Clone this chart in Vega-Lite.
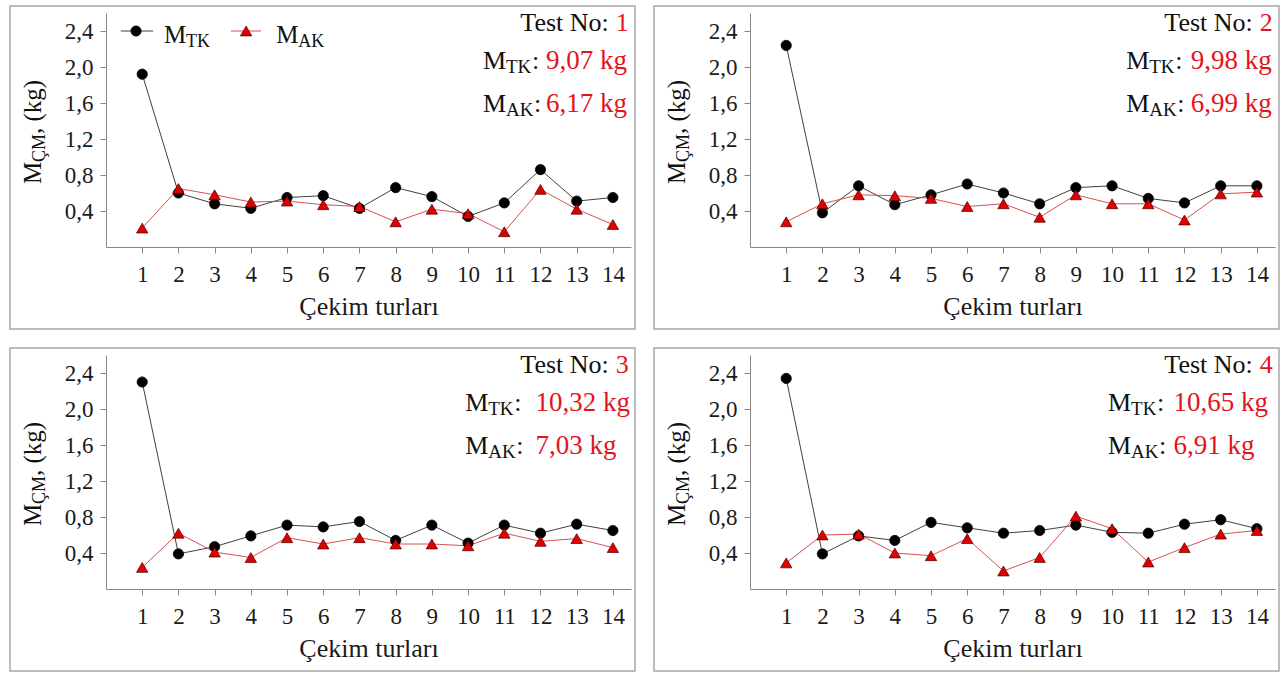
{
  "$schema": "https://vega.github.io/schema/vega-lite/v6.json",
  "background": "white",
  "padding": {"left": 9, "top": 5, "right": 0, "bottom": 0},
  "autosize": {"type": "pad"},
  "bounds": "flush",
  "spacing": 19,
  "columns": 2,
  "data": {"values": [
    {"test":1,"round":1,"series":"TK","v":1.92},{"test":1,"round":2,"series":"TK","v":0.60},{"test":1,"round":3,"series":"TK","v":0.48},{"test":1,"round":4,"series":"TK","v":0.43},{"test":1,"round":5,"series":"TK","v":0.55},{"test":1,"round":6,"series":"TK","v":0.57},{"test":1,"round":7,"series":"TK","v":0.43},{"test":1,"round":8,"series":"TK","v":0.66},{"test":1,"round":9,"series":"TK","v":0.56},{"test":1,"round":10,"series":"TK","v":0.34},{"test":1,"round":11,"series":"TK","v":0.49},{"test":1,"round":12,"series":"TK","v":0.86},{"test":1,"round":13,"series":"TK","v":0.51},{"test":1,"round":14,"series":"TK","v":0.55},
    {"test":1,"round":1,"series":"AK","v":0.21},{"test":1,"round":2,"series":"AK","v":0.65},{"test":1,"round":3,"series":"AK","v":0.58},{"test":1,"round":4,"series":"AK","v":0.50},{"test":1,"round":5,"series":"AK","v":0.51},{"test":1,"round":6,"series":"AK","v":0.47},{"test":1,"round":7,"series":"AK","v":0.45},{"test":1,"round":8,"series":"AK","v":0.28},{"test":1,"round":9,"series":"AK","v":0.42},{"test":1,"round":10,"series":"AK","v":0.37},{"test":1,"round":11,"series":"AK","v":0.17},{"test":1,"round":12,"series":"AK","v":0.64},{"test":1,"round":13,"series":"AK","v":0.42},{"test":1,"round":14,"series":"AK","v":0.25},
    {"test":2,"round":1,"series":"TK","v":2.24},{"test":2,"round":2,"series":"TK","v":0.38},{"test":2,"round":3,"series":"TK","v":0.68},{"test":2,"round":4,"series":"TK","v":0.47},{"test":2,"round":5,"series":"TK","v":0.58},{"test":2,"round":6,"series":"TK","v":0.70},{"test":2,"round":7,"series":"TK","v":0.60},{"test":2,"round":8,"series":"TK","v":0.48},{"test":2,"round":9,"series":"TK","v":0.66},{"test":2,"round":10,"series":"TK","v":0.68},{"test":2,"round":11,"series":"TK","v":0.54},{"test":2,"round":12,"series":"TK","v":0.49},{"test":2,"round":13,"series":"TK","v":0.68},{"test":2,"round":14,"series":"TK","v":0.68},
    {"test":2,"round":1,"series":"AK","v":0.28},{"test":2,"round":2,"series":"AK","v":0.48},{"test":2,"round":3,"series":"AK","v":0.58},{"test":2,"round":4,"series":"AK","v":0.57},{"test":2,"round":5,"series":"AK","v":0.54},{"test":2,"round":6,"series":"AK","v":0.45},{"test":2,"round":7,"series":"AK","v":0.48},{"test":2,"round":8,"series":"AK","v":0.33},{"test":2,"round":9,"series":"AK","v":0.58},{"test":2,"round":10,"series":"AK","v":0.48},{"test":2,"round":11,"series":"AK","v":0.48},{"test":2,"round":12,"series":"AK","v":0.30},{"test":2,"round":13,"series":"AK","v":0.59},{"test":2,"round":14,"series":"AK","v":0.61},
    {"test":3,"round":1,"series":"TK","v":2.30},{"test":3,"round":2,"series":"TK","v":0.39},{"test":3,"round":3,"series":"TK","v":0.47},{"test":3,"round":4,"series":"TK","v":0.59},{"test":3,"round":5,"series":"TK","v":0.71},{"test":3,"round":6,"series":"TK","v":0.69},{"test":3,"round":7,"series":"TK","v":0.75},{"test":3,"round":8,"series":"TK","v":0.54},{"test":3,"round":9,"series":"TK","v":0.71},{"test":3,"round":10,"series":"TK","v":0.51},{"test":3,"round":11,"series":"TK","v":0.71},{"test":3,"round":12,"series":"TK","v":0.62},{"test":3,"round":13,"series":"TK","v":0.72},{"test":3,"round":14,"series":"TK","v":0.65},
    {"test":3,"round":1,"series":"AK","v":0.24},{"test":3,"round":2,"series":"AK","v":0.62},{"test":3,"round":3,"series":"AK","v":0.41},{"test":3,"round":4,"series":"AK","v":0.35},{"test":3,"round":5,"series":"AK","v":0.57},{"test":3,"round":6,"series":"AK","v":0.50},{"test":3,"round":7,"series":"AK","v":0.57},{"test":3,"round":8,"series":"AK","v":0.50},{"test":3,"round":9,"series":"AK","v":0.50},{"test":3,"round":10,"series":"AK","v":0.48},{"test":3,"round":11,"series":"AK","v":0.62},{"test":3,"round":12,"series":"AK","v":0.53},{"test":3,"round":13,"series":"AK","v":0.56},{"test":3,"round":14,"series":"AK","v":0.46},
    {"test":4,"round":1,"series":"TK","v":2.34},{"test":4,"round":2,"series":"TK","v":0.39},{"test":4,"round":3,"series":"TK","v":0.59},{"test":4,"round":4,"series":"TK","v":0.54},{"test":4,"round":5,"series":"TK","v":0.74},{"test":4,"round":6,"series":"TK","v":0.68},{"test":4,"round":7,"series":"TK","v":0.62},{"test":4,"round":8,"series":"TK","v":0.65},{"test":4,"round":9,"series":"TK","v":0.71},{"test":4,"round":10,"series":"TK","v":0.63},{"test":4,"round":11,"series":"TK","v":0.62},{"test":4,"round":12,"series":"TK","v":0.72},{"test":4,"round":13,"series":"TK","v":0.77},{"test":4,"round":14,"series":"TK","v":0.67},
    {"test":4,"round":1,"series":"AK","v":0.29},{"test":4,"round":2,"series":"AK","v":0.60},{"test":4,"round":3,"series":"AK","v":0.61},{"test":4,"round":4,"series":"AK","v":0.40},{"test":4,"round":5,"series":"AK","v":0.37},{"test":4,"round":6,"series":"AK","v":0.56},{"test":4,"round":7,"series":"AK","v":0.20},{"test":4,"round":8,"series":"AK","v":0.35},{"test":4,"round":9,"series":"AK","v":0.81},{"test":4,"round":10,"series":"AK","v":0.67},{"test":4,"round":11,"series":"AK","v":0.30},{"test":4,"round":12,"series":"AK","v":0.46},{"test":4,"round":13,"series":"AK","v":0.61},{"test":4,"round":14,"series":"AK","v":0.65},
    {"test":1,"kind":"info","tk":"9,07 kg","ak":"6,17 kg"},
    {"test":2,"kind":"info","tk":"9,98 kg","ak":"6,99 kg"},
    {"test":3,"kind":"info","tk":"10,32 kg","ak":"7,03 kg"},
    {"test":4,"kind":"info","tk":"10,65 kg","ak":"6,91 kg"},
    {"test":1,"kind":"legend"}
  ]},
  "concat": [
    {"transform": [{"filter": "datum.test === 1"}], "width": 625, "height": 323,
     "layer": [
      {"transform": [{"filter": "isValid(datum.v)"}], "mark": {"type": "line", "strokeWidth": 0.9},
       "encoding": {
         "x": {"field": "round", "type": "quantitative", "scale": {"domain": [0, 14.5], "range": [96, 621], "nice": false, "zero": false},
           "axis": {"title": "Çekim turları", "orient": "bottom", "offset": -82, "values": [1,2,3,4,5,6,7,8,9,10,11,12,13,14], "format": "d", "grid": false, "domainColor": "#888", "tickColor": "#888", "tickSize": 6, "labelFont": "Liberation Serif", "labelFontSize": 23, "labelColor": "#1a1a1a", "labelPadding": 10, "titleFont": "Liberation Serif", "titleFontSize": 26, "titleFontWeight": "normal", "titleColor": "#1a1a1a", "titlePadding": 7}},
         "y": {"field": "v", "type": "quantitative", "scale": {"domain": [0, 2.6], "range": [241, 7], "nice": false, "zero": false},
           "axis": {"title": null, "orient": "left", "offset": -96, "values": [0.4, 0.8, 1.2, 1.6, 2.0, 2.4], "labelExpr": "replace(format(datum.value, '.1f'), '.', ',')", "grid": false, "domainColor": "#888", "tickColor": "#888", "tickSize": 6, "labelFont": "Liberation Serif", "labelFontSize": 23, "labelColor": "#1a1a1a", "labelPadding": 7}},
         "color": {"field": "series", "type": "nominal", "scale": {"domain": ["TK", "AK"], "range": ["#2a2a2a", "#d43c3c"]}, "legend": null}}},
      {"transform": [{"filter": "datum.series === 'TK'"}], "mark": {"type": "point", "shape": "circle", "filled": true, "fill": "#000", "stroke": "#000", "strokeWidth": 0.8, "size": 105, "opacity": 1},
       "encoding": {"x": {"field": "round", "type": "quantitative"}, "y": {"field": "v", "type": "quantitative"}}},
      {"transform": [{"filter": "datum.series === 'AK'"}], "mark": {"type": "point", "shape": "triangle-up", "filled": true, "fill": "#e00000", "stroke": "#4a0000", "strokeWidth": 0.7, "size": 130, "opacity": 1},
       "encoding": {"x": {"field": "round", "type": "quantitative"}, "y": {"field": "v", "type": "quantitative"}}},
      {"transform": [{"filter": "datum.kind === 'info'"}], "mark": {"type": "text", "text": "Test No:", "align": "right", "baseline": "alphabetic", "dx": -20, "fontSize": 26, "color": "#111"},
       "encoding": {"x": {"datum": 14.44, "type": "quantitative"}, "y": {"datum": 2.4, "type": "quantitative"}}},
      {"transform": [{"filter": "datum.kind === 'info'"}], "mark": {"type": "text", "align": "right", "baseline": "alphabetic", "fontSize": 26, "color": "#e3141c"},
       "encoding": {"text": {"field": "test", "type": "nominal"}, "x": {"datum": 14.44, "type": "quantitative"}, "y": {"datum": 2.4, "type": "quantitative"}}},
      {"transform": [{"filter": "datum.kind === 'info'"}], "mark": {"type": "text", "text": "M", "align": "left", "baseline": "alphabetic", "fontSize": 26, "color": "#111"},
       "encoding": {"x": {"datum": 10.41, "type": "quantitative"}, "y": {"datum": 1.974, "type": "quantitative"}}},
      {"transform": [{"filter": "datum.kind === 'info'"}], "mark": {"type": "text", "text": "TK", "align": "left", "baseline": "alphabetic", "dx": 23, "dy": 4, "fontSize": 19, "color": "#111"},
       "encoding": {"x": {"datum": 10.41, "type": "quantitative"}, "y": {"datum": 1.974, "type": "quantitative"}}},
      {"transform": [{"filter": "datum.kind === 'info'"}], "mark": {"type": "text", "text": ":", "align": "left", "baseline": "alphabetic", "dx": 49, "fontSize": 26, "color": "#111"},
       "encoding": {"x": {"datum": 10.41, "type": "quantitative"}, "y": {"datum": 1.974, "type": "quantitative"}}},
      {"transform": [{"filter": "datum.kind === 'info'"}], "mark": {"type": "text", "align": "left", "baseline": "alphabetic", "fontSize": 27, "color": "#e3141c"},
       "encoding": {"text": {"field": "tk", "type": "nominal"}, "x": {"datum": 12.15, "type": "quantitative"}, "y": {"datum": 1.974, "type": "quantitative"}}},
      {"transform": [{"filter": "datum.kind === 'info'"}], "mark": {"type": "text", "text": "M", "align": "left", "baseline": "alphabetic", "fontSize": 26, "color": "#111"},
       "encoding": {"x": {"datum": 10.41, "type": "quantitative"}, "y": {"datum": 1.5, "type": "quantitative"}}},
      {"transform": [{"filter": "datum.kind === 'info'"}], "mark": {"type": "text", "text": "AK", "align": "left", "baseline": "alphabetic", "dx": 23, "dy": 4, "fontSize": 19, "color": "#111"},
       "encoding": {"x": {"datum": 10.41, "type": "quantitative"}, "y": {"datum": 1.5, "type": "quantitative"}}},
      {"transform": [{"filter": "datum.kind === 'info'"}], "mark": {"type": "text", "text": ":", "align": "left", "baseline": "alphabetic", "dx": 51, "fontSize": 26, "color": "#111"},
       "encoding": {"x": {"datum": 10.41, "type": "quantitative"}, "y": {"datum": 1.5, "type": "quantitative"}}},
      {"transform": [{"filter": "datum.kind === 'info'"}], "mark": {"type": "text", "align": "left", "baseline": "alphabetic", "fontSize": 27, "color": "#e3141c"},
       "encoding": {"text": {"field": "ak", "type": "nominal"}, "x": {"datum": 12.15, "type": "quantitative"}, "y": {"datum": 1.5, "type": "quantitative"}}},
      {"transform": [{"filter": "datum.kind === 'info'"}], "mark": {"type": "text", "text": "M", "angle": 270, "align": "left", "baseline": "alphabetic", "fontSize": 25, "color": "#111"},
       "encoding": {"x": {"datum": -1.8, "type": "quantitative"}, "y": {"datum": 0.7, "type": "quantitative"}}},
      {"transform": [{"filter": "datum.kind === 'info'"}], "mark": {"type": "text", "text": "ÇM", "angle": 270, "align": "left", "baseline": "alphabetic", "dx": 22, "dy": 4, "fontSize": 18, "color": "#111"},
       "encoding": {"x": {"datum": -1.8, "type": "quantitative"}, "y": {"datum": 0.7, "type": "quantitative"}}},
      {"transform": [{"filter": "datum.kind === 'info'"}], "mark": {"type": "text", "text": ", (kg)", "angle": 270, "align": "left", "baseline": "alphabetic", "dx": 50, "fontSize": 25, "color": "#111"},
       "encoding": {"x": {"datum": -1.8, "type": "quantitative"}, "y": {"datum": 0.7, "type": "quantitative"}}},
      {"transform": [{"filter": "datum.kind === 'legend'"}], "mark": {"type": "rule", "color": "#2a2a2a", "strokeWidth": 0.9},
       "encoding": {"x": {"datum": 0.41, "type": "quantitative"}, "x2": {"datum": 1.3}, "y": {"datum": 2.4, "type": "quantitative"}}},
      {"transform": [{"filter": "datum.kind === 'legend'"}], "mark": {"type": "point", "shape": "circle", "filled": true, "fill": "#000", "stroke": "#000", "strokeWidth": 0.8, "size": 105, "opacity": 1},
       "encoding": {"x": {"datum": 0.83, "type": "quantitative"}, "y": {"datum": 2.4, "type": "quantitative"}}},
      {"transform": [{"filter": "datum.kind === 'legend'"}], "mark": {"type": "text", "text": "M", "align": "left", "baseline": "alphabetic", "fontSize": 25, "color": "#111"},
       "encoding": {"x": {"datum": 1.6, "type": "quantitative"}, "y": {"datum": 2.27, "type": "quantitative"}}},
      {"transform": [{"filter": "datum.kind === 'legend'"}], "mark": {"type": "text", "text": "TK", "align": "left", "baseline": "alphabetic", "dx": 22, "dy": 4, "fontSize": 18, "color": "#111"},
       "encoding": {"x": {"datum": 1.6, "type": "quantitative"}, "y": {"datum": 2.27, "type": "quantitative"}}},
      {"transform": [{"filter": "datum.kind === 'legend'"}], "mark": {"type": "rule", "color": "#d43c3c", "strokeWidth": 0.9},
       "encoding": {"x": {"datum": 3.45, "type": "quantitative"}, "x2": {"datum": 4.28}, "y": {"datum": 2.4, "type": "quantitative"}}},
      {"transform": [{"filter": "datum.kind === 'legend'"}], "mark": {"type": "point", "shape": "triangle-up", "filled": true, "fill": "#e00000", "stroke": "#4a0000", "strokeWidth": 0.7, "size": 130, "opacity": 1},
       "encoding": {"x": {"datum": 3.87, "type": "quantitative"}, "y": {"datum": 2.4, "type": "quantitative"}}},
      {"transform": [{"filter": "datum.kind === 'legend'"}], "mark": {"type": "text", "text": "M", "align": "left", "baseline": "alphabetic", "fontSize": 25, "color": "#111"},
       "encoding": {"x": {"datum": 4.7, "type": "quantitative"}, "y": {"datum": 2.27, "type": "quantitative"}}},
      {"transform": [{"filter": "datum.kind === 'legend'"}], "mark": {"type": "text", "text": "AK", "align": "left", "baseline": "alphabetic", "dx": 22, "dy": 4, "fontSize": 18, "color": "#111"},
       "encoding": {"x": {"datum": 4.7, "type": "quantitative"}, "y": {"datum": 2.27, "type": "quantitative"}}}
     ]},
    {"transform": [{"filter": "datum.test === 2"}], "width": 625, "height": 323,
     "layer": [
      {"transform": [{"filter": "isValid(datum.v)"}], "mark": {"type": "line", "strokeWidth": 0.9},
       "encoding": {
         "x": {"field": "round", "type": "quantitative", "scale": {"domain": [0, 14.5], "range": [96, 621], "nice": false, "zero": false},
           "axis": {"title": "Çekim turları", "orient": "bottom", "offset": -82, "values": [1,2,3,4,5,6,7,8,9,10,11,12,13,14], "format": "d", "grid": false, "domainColor": "#888", "tickColor": "#888", "tickSize": 6, "labelFont": "Liberation Serif", "labelFontSize": 23, "labelColor": "#1a1a1a", "labelPadding": 10, "titleFont": "Liberation Serif", "titleFontSize": 26, "titleFontWeight": "normal", "titleColor": "#1a1a1a", "titlePadding": 7}},
         "y": {"field": "v", "type": "quantitative", "scale": {"domain": [0, 2.6], "range": [241, 7], "nice": false, "zero": false},
           "axis": {"title": null, "orient": "left", "offset": -96, "values": [0.4, 0.8, 1.2, 1.6, 2.0, 2.4], "labelExpr": "replace(format(datum.value, '.1f'), '.', ',')", "grid": false, "domainColor": "#888", "tickColor": "#888", "tickSize": 6, "labelFont": "Liberation Serif", "labelFontSize": 23, "labelColor": "#1a1a1a", "labelPadding": 7}},
         "color": {"field": "series", "type": "nominal", "scale": {"domain": ["TK", "AK"], "range": ["#2a2a2a", "#d43c3c"]}, "legend": null}}},
      {"transform": [{"filter": "datum.series === 'TK'"}], "mark": {"type": "point", "shape": "circle", "filled": true, "fill": "#000", "stroke": "#000", "strokeWidth": 0.8, "size": 105, "opacity": 1},
       "encoding": {"x": {"field": "round", "type": "quantitative"}, "y": {"field": "v", "type": "quantitative"}}},
      {"transform": [{"filter": "datum.series === 'AK'"}], "mark": {"type": "point", "shape": "triangle-up", "filled": true, "fill": "#e00000", "stroke": "#4a0000", "strokeWidth": 0.7, "size": 130, "opacity": 1},
       "encoding": {"x": {"field": "round", "type": "quantitative"}, "y": {"field": "v", "type": "quantitative"}}},
      {"transform": [{"filter": "datum.kind === 'info'"}], "mark": {"type": "text", "text": "Test No:", "align": "right", "baseline": "alphabetic", "dx": -20, "fontSize": 26, "color": "#111"},
       "encoding": {"x": {"datum": 14.44, "type": "quantitative"}, "y": {"datum": 2.4, "type": "quantitative"}}},
      {"transform": [{"filter": "datum.kind === 'info'"}], "mark": {"type": "text", "align": "right", "baseline": "alphabetic", "fontSize": 26, "color": "#e3141c"},
       "encoding": {"text": {"field": "test", "type": "nominal"}, "x": {"datum": 14.44, "type": "quantitative"}, "y": {"datum": 2.4, "type": "quantitative"}}},
      {"transform": [{"filter": "datum.kind === 'info'"}], "mark": {"type": "text", "text": "M", "align": "left", "baseline": "alphabetic", "fontSize": 26, "color": "#111"},
       "encoding": {"x": {"datum": 10.39, "type": "quantitative"}, "y": {"datum": 1.974, "type": "quantitative"}}},
      {"transform": [{"filter": "datum.kind === 'info'"}], "mark": {"type": "text", "text": "TK", "align": "left", "baseline": "alphabetic", "dx": 23, "dy": 4, "fontSize": 19, "color": "#111"},
       "encoding": {"x": {"datum": 10.39, "type": "quantitative"}, "y": {"datum": 1.974, "type": "quantitative"}}},
      {"transform": [{"filter": "datum.kind === 'info'"}], "mark": {"type": "text", "text": ":", "align": "left", "baseline": "alphabetic", "dx": 49, "fontSize": 26, "color": "#111"},
       "encoding": {"x": {"datum": 10.39, "type": "quantitative"}, "y": {"datum": 1.974, "type": "quantitative"}}},
      {"transform": [{"filter": "datum.kind === 'info'"}], "mark": {"type": "text", "align": "left", "baseline": "alphabetic", "fontSize": 27, "color": "#e3141c"},
       "encoding": {"text": {"field": "tk", "type": "nominal"}, "x": {"datum": 12.17, "type": "quantitative"}, "y": {"datum": 1.974, "type": "quantitative"}}},
      {"transform": [{"filter": "datum.kind === 'info'"}], "mark": {"type": "text", "text": "M", "align": "left", "baseline": "alphabetic", "fontSize": 26, "color": "#111"},
       "encoding": {"x": {"datum": 10.39, "type": "quantitative"}, "y": {"datum": 1.5, "type": "quantitative"}}},
      {"transform": [{"filter": "datum.kind === 'info'"}], "mark": {"type": "text", "text": "AK", "align": "left", "baseline": "alphabetic", "dx": 23, "dy": 4, "fontSize": 19, "color": "#111"},
       "encoding": {"x": {"datum": 10.39, "type": "quantitative"}, "y": {"datum": 1.5, "type": "quantitative"}}},
      {"transform": [{"filter": "datum.kind === 'info'"}], "mark": {"type": "text", "text": ":", "align": "left", "baseline": "alphabetic", "dx": 51, "fontSize": 26, "color": "#111"},
       "encoding": {"x": {"datum": 10.39, "type": "quantitative"}, "y": {"datum": 1.5, "type": "quantitative"}}},
      {"transform": [{"filter": "datum.kind === 'info'"}], "mark": {"type": "text", "align": "left", "baseline": "alphabetic", "fontSize": 27, "color": "#e3141c"},
       "encoding": {"text": {"field": "ak", "type": "nominal"}, "x": {"datum": 12.17, "type": "quantitative"}, "y": {"datum": 1.5, "type": "quantitative"}}},
      {"transform": [{"filter": "datum.kind === 'info'"}], "mark": {"type": "text", "text": "M", "angle": 270, "align": "left", "baseline": "alphabetic", "fontSize": 25, "color": "#111"},
       "encoding": {"x": {"datum": -1.8, "type": "quantitative"}, "y": {"datum": 0.7, "type": "quantitative"}}},
      {"transform": [{"filter": "datum.kind === 'info'"}], "mark": {"type": "text", "text": "ÇM", "angle": 270, "align": "left", "baseline": "alphabetic", "dx": 22, "dy": 4, "fontSize": 18, "color": "#111"},
       "encoding": {"x": {"datum": -1.8, "type": "quantitative"}, "y": {"datum": 0.7, "type": "quantitative"}}},
      {"transform": [{"filter": "datum.kind === 'info'"}], "mark": {"type": "text", "text": ", (kg)", "angle": 270, "align": "left", "baseline": "alphabetic", "dx": 50, "fontSize": 25, "color": "#111"},
       "encoding": {"x": {"datum": -1.8, "type": "quantitative"}, "y": {"datum": 0.7, "type": "quantitative"}}}
     ]},
    {"transform": [{"filter": "datum.test === 3"}], "width": 625, "height": 323,
     "layer": [
      {"transform": [{"filter": "isValid(datum.v)"}], "mark": {"type": "line", "strokeWidth": 0.9},
       "encoding": {
         "x": {"field": "round", "type": "quantitative", "scale": {"domain": [0, 14.5], "range": [96, 621], "nice": false, "zero": false},
           "axis": {"title": "Çekim turları", "orient": "bottom", "offset": -82, "values": [1,2,3,4,5,6,7,8,9,10,11,12,13,14], "format": "d", "grid": false, "domainColor": "#888", "tickColor": "#888", "tickSize": 6, "labelFont": "Liberation Serif", "labelFontSize": 23, "labelColor": "#1a1a1a", "labelPadding": 10, "titleFont": "Liberation Serif", "titleFontSize": 26, "titleFontWeight": "normal", "titleColor": "#1a1a1a", "titlePadding": 7}},
         "y": {"field": "v", "type": "quantitative", "scale": {"domain": [0, 2.6], "range": [241, 7], "nice": false, "zero": false},
           "axis": {"title": null, "orient": "left", "offset": -96, "values": [0.4, 0.8, 1.2, 1.6, 2.0, 2.4], "labelExpr": "replace(format(datum.value, '.1f'), '.', ',')", "grid": false, "domainColor": "#888", "tickColor": "#888", "tickSize": 6, "labelFont": "Liberation Serif", "labelFontSize": 23, "labelColor": "#1a1a1a", "labelPadding": 7}},
         "color": {"field": "series", "type": "nominal", "scale": {"domain": ["TK", "AK"], "range": ["#2a2a2a", "#d43c3c"]}, "legend": null}}},
      {"transform": [{"filter": "datum.series === 'TK'"}], "mark": {"type": "point", "shape": "circle", "filled": true, "fill": "#000", "stroke": "#000", "strokeWidth": 0.8, "size": 105, "opacity": 1},
       "encoding": {"x": {"field": "round", "type": "quantitative"}, "y": {"field": "v", "type": "quantitative"}}},
      {"transform": [{"filter": "datum.series === 'AK'"}], "mark": {"type": "point", "shape": "triangle-up", "filled": true, "fill": "#e00000", "stroke": "#4a0000", "strokeWidth": 0.7, "size": 130, "opacity": 1},
       "encoding": {"x": {"field": "round", "type": "quantitative"}, "y": {"field": "v", "type": "quantitative"}}},
      {"transform": [{"filter": "datum.kind === 'info'"}], "mark": {"type": "text", "text": "Test No:", "align": "right", "baseline": "alphabetic", "dx": -20, "fontSize": 26, "color": "#111"},
       "encoding": {"x": {"datum": 14.44, "type": "quantitative"}, "y": {"datum": 2.4, "type": "quantitative"}}},
      {"transform": [{"filter": "datum.kind === 'info'"}], "mark": {"type": "text", "align": "right", "baseline": "alphabetic", "fontSize": 26, "color": "#e3141c"},
       "encoding": {"text": {"field": "test", "type": "nominal"}, "x": {"datum": 14.44, "type": "quantitative"}, "y": {"datum": 2.4, "type": "quantitative"}}},
      {"transform": [{"filter": "datum.kind === 'info'"}], "mark": {"type": "text", "text": "M", "align": "left", "baseline": "alphabetic", "fontSize": 26, "color": "#111"},
       "encoding": {"x": {"datum": 9.92, "type": "quantitative"}, "y": {"datum": 1.974, "type": "quantitative"}}},
      {"transform": [{"filter": "datum.kind === 'info'"}], "mark": {"type": "text", "text": "TK", "align": "left", "baseline": "alphabetic", "dx": 23, "dy": 4, "fontSize": 19, "color": "#111"},
       "encoding": {"x": {"datum": 9.92, "type": "quantitative"}, "y": {"datum": 1.974, "type": "quantitative"}}},
      {"transform": [{"filter": "datum.kind === 'info'"}], "mark": {"type": "text", "text": ":", "align": "left", "baseline": "alphabetic", "dx": 49, "fontSize": 26, "color": "#111"},
       "encoding": {"x": {"datum": 9.92, "type": "quantitative"}, "y": {"datum": 1.974, "type": "quantitative"}}},
      {"transform": [{"filter": "datum.kind === 'info'"}], "mark": {"type": "text", "align": "left", "baseline": "alphabetic", "fontSize": 27, "color": "#e3141c"},
       "encoding": {"text": {"field": "tk", "type": "nominal"}, "x": {"datum": 11.86, "type": "quantitative"}, "y": {"datum": 1.974, "type": "quantitative"}}},
      {"transform": [{"filter": "datum.kind === 'info'"}], "mark": {"type": "text", "text": "M", "align": "left", "baseline": "alphabetic", "fontSize": 26, "color": "#111"},
       "encoding": {"x": {"datum": 9.92, "type": "quantitative"}, "y": {"datum": 1.5, "type": "quantitative"}}},
      {"transform": [{"filter": "datum.kind === 'info'"}], "mark": {"type": "text", "text": "AK", "align": "left", "baseline": "alphabetic", "dx": 23, "dy": 4, "fontSize": 19, "color": "#111"},
       "encoding": {"x": {"datum": 9.92, "type": "quantitative"}, "y": {"datum": 1.5, "type": "quantitative"}}},
      {"transform": [{"filter": "datum.kind === 'info'"}], "mark": {"type": "text", "text": ":", "align": "left", "baseline": "alphabetic", "dx": 51, "fontSize": 26, "color": "#111"},
       "encoding": {"x": {"datum": 9.92, "type": "quantitative"}, "y": {"datum": 1.5, "type": "quantitative"}}},
      {"transform": [{"filter": "datum.kind === 'info'"}], "mark": {"type": "text", "align": "left", "baseline": "alphabetic", "fontSize": 27, "color": "#e3141c"},
       "encoding": {"text": {"field": "ak", "type": "nominal"}, "x": {"datum": 11.86, "type": "quantitative"}, "y": {"datum": 1.5, "type": "quantitative"}}},
      {"transform": [{"filter": "datum.kind === 'info'"}], "mark": {"type": "text", "text": "M", "angle": 270, "align": "left", "baseline": "alphabetic", "fontSize": 25, "color": "#111"},
       "encoding": {"x": {"datum": -1.8, "type": "quantitative"}, "y": {"datum": 0.7, "type": "quantitative"}}},
      {"transform": [{"filter": "datum.kind === 'info'"}], "mark": {"type": "text", "text": "ÇM", "angle": 270, "align": "left", "baseline": "alphabetic", "dx": 22, "dy": 4, "fontSize": 18, "color": "#111"},
       "encoding": {"x": {"datum": -1.8, "type": "quantitative"}, "y": {"datum": 0.7, "type": "quantitative"}}},
      {"transform": [{"filter": "datum.kind === 'info'"}], "mark": {"type": "text", "text": ", (kg)", "angle": 270, "align": "left", "baseline": "alphabetic", "dx": 50, "fontSize": 25, "color": "#111"},
       "encoding": {"x": {"datum": -1.8, "type": "quantitative"}, "y": {"datum": 0.7, "type": "quantitative"}}}
     ]},
    {"transform": [{"filter": "datum.test === 4"}], "width": 625, "height": 323,
     "layer": [
      {"transform": [{"filter": "isValid(datum.v)"}], "mark": {"type": "line", "strokeWidth": 0.9},
       "encoding": {
         "x": {"field": "round", "type": "quantitative", "scale": {"domain": [0, 14.5], "range": [96, 621], "nice": false, "zero": false},
           "axis": {"title": "Çekim turları", "orient": "bottom", "offset": -82, "values": [1,2,3,4,5,6,7,8,9,10,11,12,13,14], "format": "d", "grid": false, "domainColor": "#888", "tickColor": "#888", "tickSize": 6, "labelFont": "Liberation Serif", "labelFontSize": 23, "labelColor": "#1a1a1a", "labelPadding": 10, "titleFont": "Liberation Serif", "titleFontSize": 26, "titleFontWeight": "normal", "titleColor": "#1a1a1a", "titlePadding": 7}},
         "y": {"field": "v", "type": "quantitative", "scale": {"domain": [0, 2.6], "range": [241, 7], "nice": false, "zero": false},
           "axis": {"title": null, "orient": "left", "offset": -96, "values": [0.4, 0.8, 1.2, 1.6, 2.0, 2.4], "labelExpr": "replace(format(datum.value, '.1f'), '.', ',')", "grid": false, "domainColor": "#888", "tickColor": "#888", "tickSize": 6, "labelFont": "Liberation Serif", "labelFontSize": 23, "labelColor": "#1a1a1a", "labelPadding": 7}},
         "color": {"field": "series", "type": "nominal", "scale": {"domain": ["TK", "AK"], "range": ["#2a2a2a", "#d43c3c"]}, "legend": null}}},
      {"transform": [{"filter": "datum.series === 'TK'"}], "mark": {"type": "point", "shape": "circle", "filled": true, "fill": "#000", "stroke": "#000", "strokeWidth": 0.8, "size": 105, "opacity": 1},
       "encoding": {"x": {"field": "round", "type": "quantitative"}, "y": {"field": "v", "type": "quantitative"}}},
      {"transform": [{"filter": "datum.series === 'AK'"}], "mark": {"type": "point", "shape": "triangle-up", "filled": true, "fill": "#e00000", "stroke": "#4a0000", "strokeWidth": 0.7, "size": 130, "opacity": 1},
       "encoding": {"x": {"field": "round", "type": "quantitative"}, "y": {"field": "v", "type": "quantitative"}}},
      {"transform": [{"filter": "datum.kind === 'info'"}], "mark": {"type": "text", "text": "Test No:", "align": "right", "baseline": "alphabetic", "dx": -20, "fontSize": 26, "color": "#111"},
       "encoding": {"x": {"datum": 14.44, "type": "quantitative"}, "y": {"datum": 2.4, "type": "quantitative"}}},
      {"transform": [{"filter": "datum.kind === 'info'"}], "mark": {"type": "text", "align": "right", "baseline": "alphabetic", "fontSize": 26, "color": "#e3141c"},
       "encoding": {"text": {"field": "test", "type": "nominal"}, "x": {"datum": 14.44, "type": "quantitative"}, "y": {"datum": 2.4, "type": "quantitative"}}},
      {"transform": [{"filter": "datum.kind === 'info'"}], "mark": {"type": "text", "text": "M", "align": "left", "baseline": "alphabetic", "fontSize": 26, "color": "#111"},
       "encoding": {"x": {"datum": 9.89, "type": "quantitative"}, "y": {"datum": 1.974, "type": "quantitative"}}},
      {"transform": [{"filter": "datum.kind === 'info'"}], "mark": {"type": "text", "text": "TK", "align": "left", "baseline": "alphabetic", "dx": 23, "dy": 4, "fontSize": 19, "color": "#111"},
       "encoding": {"x": {"datum": 9.89, "type": "quantitative"}, "y": {"datum": 1.974, "type": "quantitative"}}},
      {"transform": [{"filter": "datum.kind === 'info'"}], "mark": {"type": "text", "text": ":", "align": "left", "baseline": "alphabetic", "dx": 49, "fontSize": 26, "color": "#111"},
       "encoding": {"x": {"datum": 9.89, "type": "quantitative"}, "y": {"datum": 1.974, "type": "quantitative"}}},
      {"transform": [{"filter": "datum.kind === 'info'"}], "mark": {"type": "text", "align": "left", "baseline": "alphabetic", "fontSize": 27, "color": "#e3141c"},
       "encoding": {"text": {"field": "tk", "type": "nominal"}, "x": {"datum": 11.7, "type": "quantitative"}, "y": {"datum": 1.974, "type": "quantitative"}}},
      {"transform": [{"filter": "datum.kind === 'info'"}], "mark": {"type": "text", "text": "M", "align": "left", "baseline": "alphabetic", "fontSize": 26, "color": "#111"},
       "encoding": {"x": {"datum": 9.89, "type": "quantitative"}, "y": {"datum": 1.5, "type": "quantitative"}}},
      {"transform": [{"filter": "datum.kind === 'info'"}], "mark": {"type": "text", "text": "AK", "align": "left", "baseline": "alphabetic", "dx": 23, "dy": 4, "fontSize": 19, "color": "#111"},
       "encoding": {"x": {"datum": 9.89, "type": "quantitative"}, "y": {"datum": 1.5, "type": "quantitative"}}},
      {"transform": [{"filter": "datum.kind === 'info'"}], "mark": {"type": "text", "text": ":", "align": "left", "baseline": "alphabetic", "dx": 51, "fontSize": 26, "color": "#111"},
       "encoding": {"x": {"datum": 9.89, "type": "quantitative"}, "y": {"datum": 1.5, "type": "quantitative"}}},
      {"transform": [{"filter": "datum.kind === 'info'"}], "mark": {"type": "text", "align": "left", "baseline": "alphabetic", "fontSize": 27, "color": "#e3141c"},
       "encoding": {"text": {"field": "ak", "type": "nominal"}, "x": {"datum": 11.7, "type": "quantitative"}, "y": {"datum": 1.5, "type": "quantitative"}}},
      {"transform": [{"filter": "datum.kind === 'info'"}], "mark": {"type": "text", "text": "M", "angle": 270, "align": "left", "baseline": "alphabetic", "fontSize": 25, "color": "#111"},
       "encoding": {"x": {"datum": -1.8, "type": "quantitative"}, "y": {"datum": 0.7, "type": "quantitative"}}},
      {"transform": [{"filter": "datum.kind === 'info'"}], "mark": {"type": "text", "text": "ÇM", "angle": 270, "align": "left", "baseline": "alphabetic", "dx": 22, "dy": 4, "fontSize": 18, "color": "#111"},
       "encoding": {"x": {"datum": -1.8, "type": "quantitative"}, "y": {"datum": 0.7, "type": "quantitative"}}},
      {"transform": [{"filter": "datum.kind === 'info'"}], "mark": {"type": "text", "text": ", (kg)", "angle": 270, "align": "left", "baseline": "alphabetic", "dx": 50, "fontSize": 25, "color": "#111"},
       "encoding": {"x": {"datum": -1.8, "type": "quantitative"}, "y": {"datum": 0.7, "type": "quantitative"}}}
     ]}
  ],
  "config": {
    "view": {"stroke": "#a8a8a8", "strokeWidth": 1.5},
    "font": "Liberation Serif",
    "text": {"font": "Liberation Serif"}
  }
}
